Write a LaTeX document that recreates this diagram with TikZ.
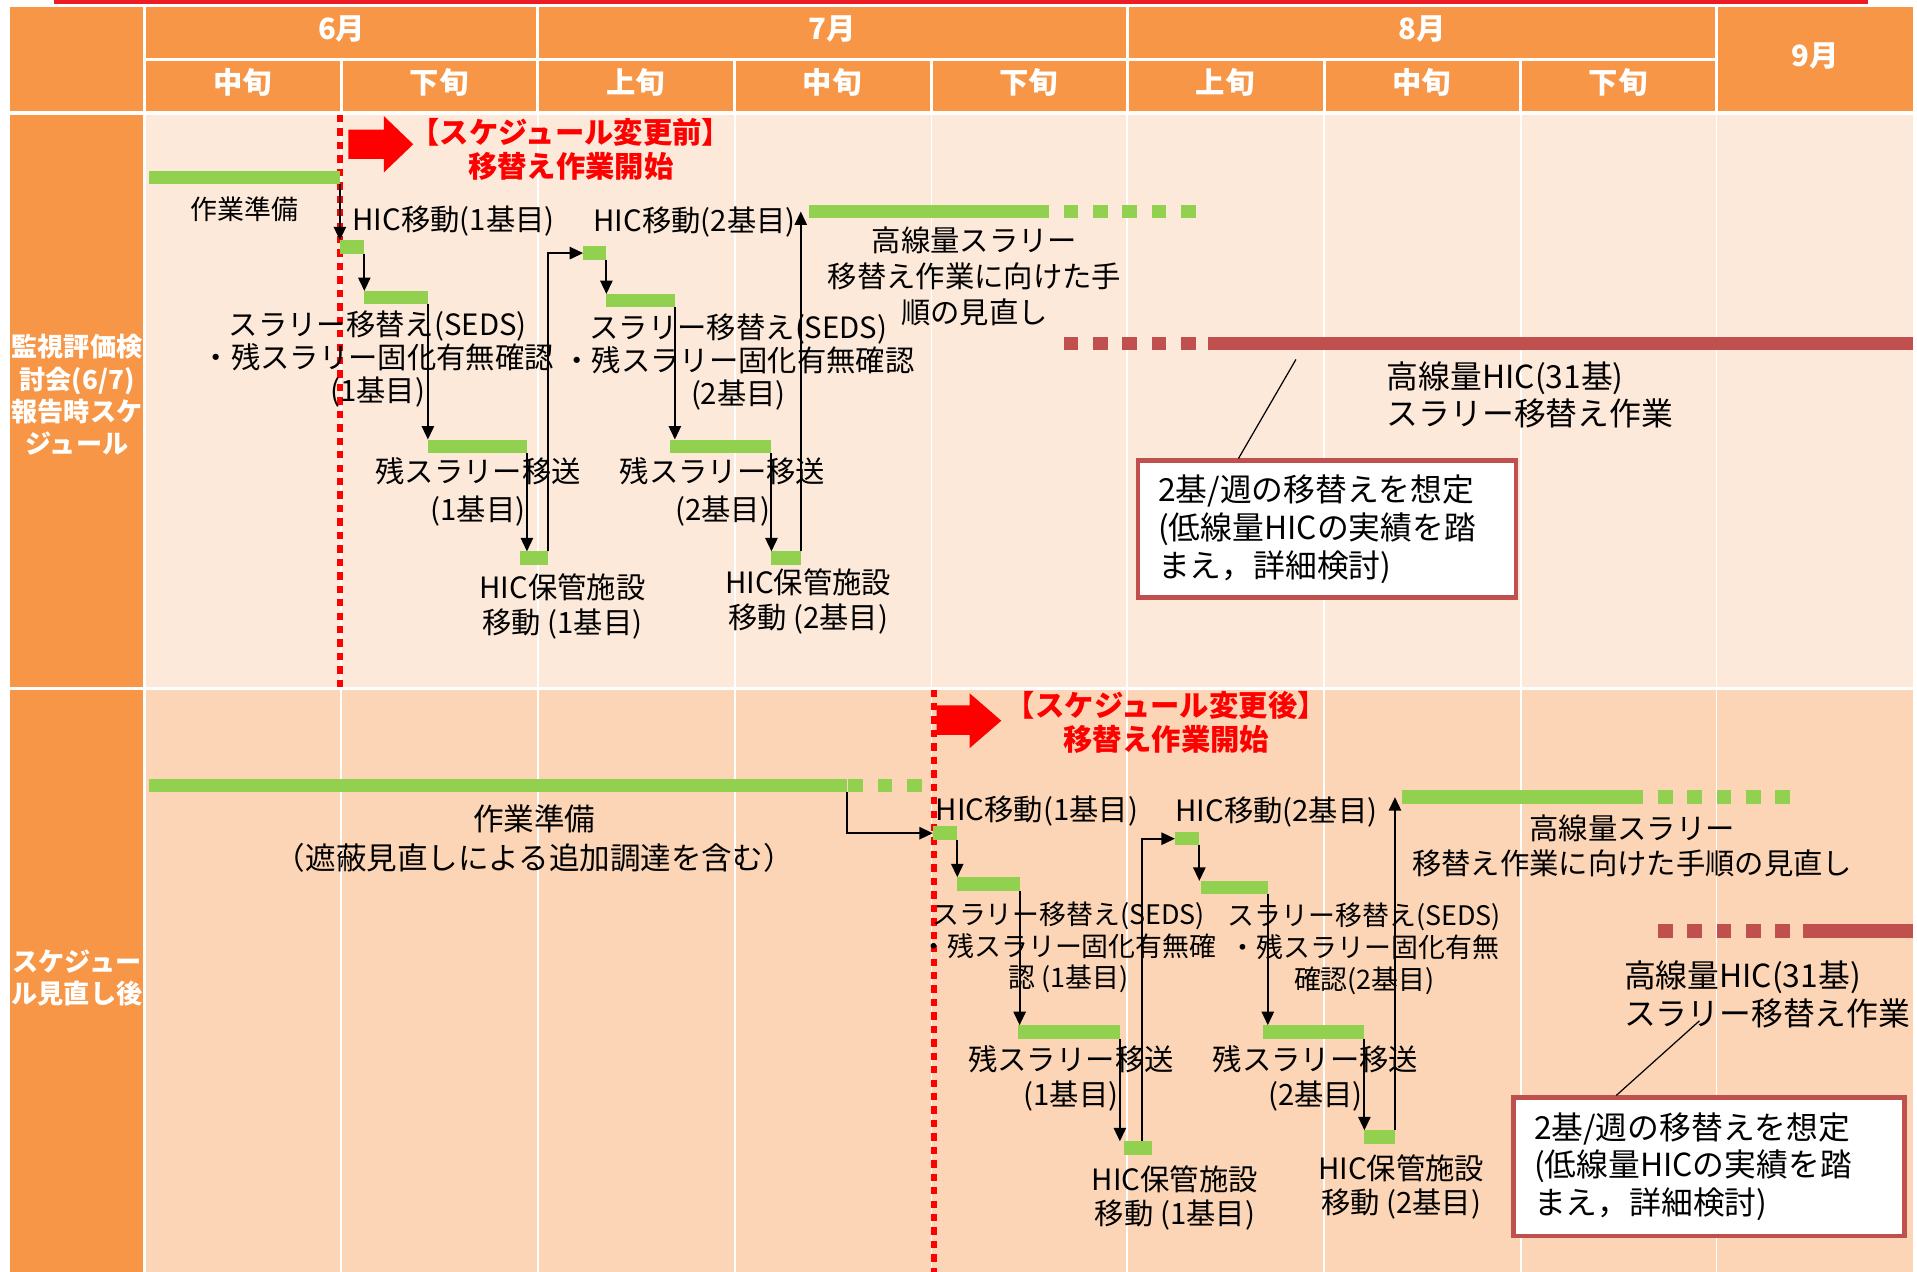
\documentclass[tikz,border=0pt]{standalone}
\usepackage{fontspec}
\setmainfont{Noto Sans CJK JP}
\usetikzlibrary{arrows.meta}
\definecolor{hdorange}{HTML}{F79646}
\definecolor{bodyA}{HTML}{FDE9D9}
\definecolor{bodyB}{HTML}{FBD5B5}
\definecolor{grn}{HTML}{92D050}
\definecolor{redbar}{HTML}{C0504D}
\definecolor{topred}{HTML}{ED1C24}
\newcommand\fsz[2]{\fontsize{#1}{#2}\selectfont}
% bar: [colour]{name}{x from}{x to}{y}
\newcommand\taskbar[5][grn]{\node[barnode,fill=#1,minimum width={(#4-#3)*0.5pt}] (#2) at (#3,#5) {};}
\tikzset{
  barnode/.style={anchor=west,inner sep=0pt,outer sep=0pt,minimum height=5.5pt},
  hd/.style={text=white,font=\bfseries\fsz{12}{14}},
  side/.style={text=white,align=center,inner sep=0pt,font=\bfseries\fsz{10.7}{13.2}},
  lbl/.style={align=center,inner sep=0pt,font=\fsz{12}{14.5}},
  redlbl/.style={align=center,inner sep=0pt,text=red,font=\bfseries\fsz{12}{14}},
  arr/.style={-{Triangle[length=5.5pt,width=5pt]},line width=0.8pt},
  gdash/.style={grn,line width=5.5pt,dash pattern=on 6pt off 6pt},
  rdash/.style={redbar,line width=5.5pt,dash pattern=on 6pt off 6pt},
  startline/.style={red,line width=2.2pt,dash pattern=on 3pt off 2.5pt},
  note/.style={draw=redbar,line width=1.8pt,fill=white,anchor=north west,align=left,inner xsep=7pt,font=\fsz{13}{15.5}},
}
\begin{document}
\begin{tikzpicture}[x=0.5pt,y=-0.5pt]
\useasboundingbox (0,0) rectangle (1568,1040);
\fill[white] (0,0) rectangle (1568,1040);
% header
\draw[topred,line width=1.5pt] (44,1.5) -- (1528,1.5);
\fill[hdorange] (8,5.5) rectangle (1565,90.5);
\draw[white,line width=1.2pt] (118,49) -- (1404,49);
\foreach \x in {118,440,922,1404} \draw[white,line width=1.2pt] (\x,5.5) -- (\x,90.5);
\foreach \x in {279,601,762,1083,1244} \draw[white,line width=1.2pt] (\x,49) -- (\x,90.5);
\node[hd] (m6) at (279.5,24) {6月};
\node[hd] (m7) at (681,24) {7月};
\node[hd] (m8) at (1163,24) {8月};
\node[hd] (m9) at (1484.5,46) {9月};
\foreach \lab [count=\i] in {中旬,下旬,上旬,中旬,下旬,上旬,中旬,下旬}
  \node[hd] (d\i) at ({118+160.75*(\i-0.5)},67) {\lab};
% body
\fill[hdorange] (8,94) rectangle (118,562);
\fill[bodyA] (118,94) rectangle (1565,562);
\fill[hdorange] (8,564) rectangle (118,1040);
\fill[bodyB] (118,564) rectangle (1565,1040);
\draw[white,line width=1.1pt] (118,94) -- (118,1040);
\foreach \x in {279,440,601,762,922,1083,1244,1404} \draw[white,line width=0.7pt] (\x,94) -- (\x,1040);
\node[side] (sec1) at (63,323) {監視評価検\\討会(6/7)\\報告時スケ\\ジュール};
\node[side] (sec2) at (63,800) {スケジュー\\ル見直し後};
\draw[startline] (278,94) -- (278,562);
\draw[startline] (764,564) -- (764,1040);
% before
\fill[red] (285,106) -- (314,106) -- (314,95) -- (338,118) -- (314,141) -- (314,130) -- (285,130) -- cycle;
\node[redlbl] (k1) at (467,122) {【スケジュール変更前】\\移替え作業開始};
\taskbar{s1prep}{122}{278}{145}
\taskbar{s1m1}{278}{298}{202}
\taskbar{s1t1}{298}{350}{243.5}
\taskbar{s1r1}{350}{431}{365}
\taskbar{s1h1}{425}{448}{456.5}
\taskbar{s1m2}{477}{496}{207}
\taskbar{s1t2}{496}{552}{246}
\taskbar{s1r2}{548}{631}{365}
\taskbar{s1h2}{631}{655}{456.5}
\taskbar{s1hs}{662}{858}{173}
\taskbar[redbar]{s1red}{988}{1565}{281}
\draw[gdash] ([xshift=6pt]s1hs.east) -- ++(108,0);
\draw[rdash] ([xshift=6pt]s1hs.east |- s1red.west) -- ++(108,0);
\draw[arr] (s1prep.south east) -- (s1prep.south east |- s1m1.north);
\draw[arr] (s1m1.south east) -- (s1m1.south east |- s1t1.north);
\draw[arr] (s1t1.south east) -- (s1t1.south east |- s1r1.north);
\draw[arr] (s1r1.south east) -- (s1r1.south east |- s1h1.north);
\draw[arr] (s1h1.north east) |- (s1m2.west);
\draw[arr] (s1m2.south east) -- (s1m2.south east |- s1t2.north);
\draw[arr] (s1t2.south east) -- (s1t2.south east |- s1r2.north);
\draw[arr] (s1r2.south east) -- (s1r2.south east |- s1h2.north);
\draw[arr] (s1h2.north east) -- (s1h2.north east |- s1hs.west);
\node[lbl,font=\fsz{11}{13}] (p1l) at (200,171) {作業準備};
\node[lbl,anchor=west] (m1l) at (288,181) {HIC移動(1基目)};
\node[lbl,font=\fsz{12}{13.5}] (t1l) at (309,294) {スラリー移替え(SEDS)\\・残スラリー固化有無確認\\(1基目)};
\node[lbl,font=\fsz{12}{15.5}] (r1l) at (391,402) {残スラリー移送\\(1基目)};
\node[lbl,font=\fsz{12}{14}] (h1l) at (460,496) {HIC保管施設\\移動 (1基目)};
\node[lbl,anchor=west] (m2l) at (485,182) {HIC移動(2基目)};
\node[lbl,font=\fsz{12}{13.5}] (t2l) at (604,296) {スラリー移替え(SEDS)\\・残スラリー固化有無確認\\(2基目)};
\node[lbl,font=\fsz{12}{15.5}] (r2l) at (591,402) {残スラリー移送\\(2基目)};
\node[lbl,font=\fsz{12}{14}] (h2l) at (661,492) {HIC保管施設\\移動 (2基目)};
\node[lbl,font=\fsz{12}{14.75}] (hs1l) at (797,226) {高線量スラリー\\移替え作業に向けた手\\順の見直し};
\node[lbl,anchor=west,align=left,font=\fsz{13}{15.5}] (rd1l) at (1134,323) {高線量HIC(31基)\\スラリー移替え作業};
\node[note,minimum width=154.5pt,minimum height=56pt,text width=138pt] (n1) at (929,375) {2基/週の移替えを想定\\(低線量HICの実績を踏\\まえ，詳細検討)};
\coordinate (c1) at (1060,294);
\draw[line width=0.5pt] (c1) -- ([xshift=42pt]n1.north west);
% after
\fill[red] (766,577) -- (793,577) -- (793,567) -- (819,589.5) -- (793,612) -- (793,601) -- (766,601) -- cycle;
\node[redlbl] (k2) at (954,591) {【スケジュール変更後】\\移替え作業開始};
\taskbar{s2prep}{122}{693}{642.5}
\taskbar{s2m1}{763}{783}{681.5}
\taskbar{s2t1}{783}{834}{723}
\taskbar{s2r1}{833}{916}{844}
\taskbar{s2h1}{919}{942}{939}
\taskbar{s2m2}{961}{981}{686}
\taskbar{s2t2}{982}{1037}{726}
\taskbar{s2r2}{1033}{1116}{844}
\taskbar{s2h2}{1116}{1141}{930}
\taskbar{s2hs}{1147}{1344}{652}
\taskbar[redbar]{s2red}{1475}{1565}{761.5}
\draw[gdash] ([xshift=0.5pt]s2prep.east) -- ++(60,0);
\draw[gdash] ([xshift=6pt]s2hs.east) -- ++(108,0);
\draw[rdash] ([xshift=6pt]s2hs.east |- s2red.west) -- ++(108,0);
\draw[arr] (s2prep.south east) |- (s2m1.west);
\draw[arr] (s2m1.south east) -- (s2m1.south east |- s2t1.north);
\draw[arr] (s2t1.south east) -- (s2t1.south east |- s2r1.north);
\draw[arr] (s2r1.south east) -- (s2r1.south east |- s2h1.north);
\draw[arr] ([xshift=-4pt]s2h1.north east) |- (s2m2.west);
\draw[arr] (s2m2.south east) -- (s2m2.south east |- s2t2.north);
\draw[arr] (s2t2.south east) -- (s2t2.south east |- s2r2.north);
\draw[arr] (s2r2.south east) -- (s2r2.south east |- s2h2.north);
\draw[arr] (s2h2.north east) -- (s2h2.north east |- s2hs.west);
\node[lbl,font=\fsz{12.5}{16}] (p2l) at (437,686) {作業準備\\（遮蔽見直しによる追加調達を含む）};
\node[lbl,anchor=west] (m3l) at (765,663) {HIC移動(1基目)};
\node[lbl,font=\fsz{11}{13}] (t3l) at (874,775) {スラリー移替え(SEDS)\\・残スラリー固化有無確\\認 (1基目)};
\node[lbl,font=\fsz{12}{14}] (r3l) at (876,882) {残スラリー移送\\(1基目)};
\node[lbl,font=\fsz{12}{14}] (h3l) at (961,980) {HIC保管施設\\移動 (1基目)};
\node[lbl,anchor=west] (m4l) at (961,664) {HIC移動(2基目)};
\node[lbl,font=\fsz{11}{13}] (t4l) at (1116,776) {スラリー移替え(SEDS)\\・残スラリー固化有無\\確認(2基目)};
\node[lbl,font=\fsz{12}{14}] (r4l) at (1076,882) {残スラリー移送\\(2基目)};
\node[lbl,font=\fsz{12}{14}] (h4l) at (1146,971) {HIC保管施設\\移動 (2基目)};
\node[lbl,font=\fsz{12}{14.5}] (hs2l) at (1335,692) {高線量スラリー\\移替え作業に向けた手順の見直し};
\node[lbl,anchor=west,align=left,font=\fsz{13}{15.5}] (rd2l) at (1328,813) {高線量HIC(31基)\\スラリー移替え作業};
\node[note,minimum width=160pt,minimum height=56.5pt,text width=143pt] (n2) at (1236,896) {2基/週の移替えを想定\\(低線量HICの実績を踏\\まえ，詳細検討)};
\coordinate (c2) at (1390,835);
\draw[line width=0.5pt] (c2) -- ([xshift=43pt]n2.north west);
\end{tikzpicture}
\end{document}
